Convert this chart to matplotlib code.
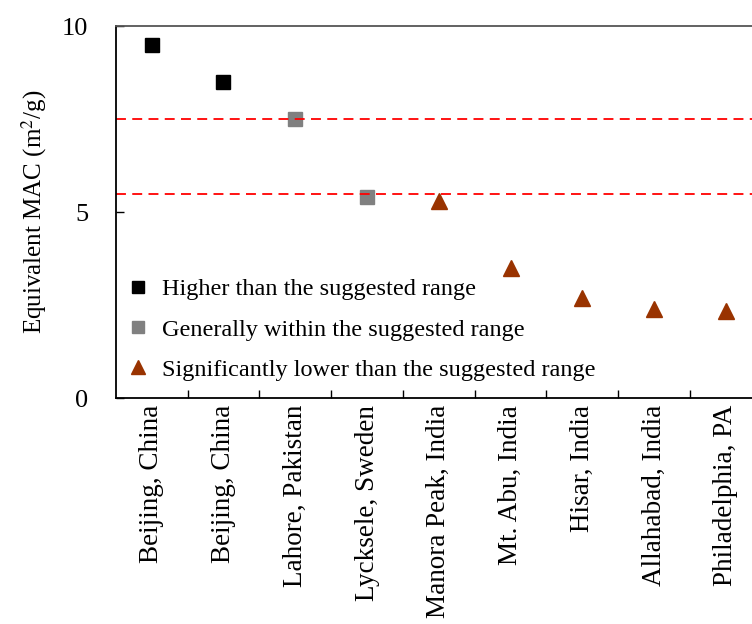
import matplotlib.pyplot as plt
import numpy as np

plt.rcParams['font.family'] = ['Liberation Serif', 'DejaVu Serif']
plt.rcParams['mathtext.fontset'] = 'stix'

sites = ["Beijing, China", "Beijing, China", "Lahore, Pakistan", "Lycksele, Sweden",
         "Manora Peak, India", "Mt. Abu, India", "Hisar, India", "Allahabad, India",
         "Philadelphia, PA"]
mac = [9.5, 8.5, 7.5, 5.4, 5.3, 3.5, 2.7, 2.4, 2.35]
group = ["high", "high", "within", "within", "low", "low", "low", "low", "low"]

range_low = 5.5
range_high = 7.5

styles = {
    "high": dict(marker="s", color="black", ms=10, label="Higher than the suggested range"),
    "within": dict(marker="s", color="#808080", ms=10, label="Generally within the suggested range"),
    "low": dict(marker="^", color="#993300", ms=11, label="Significantly lower than the suggested range"),
}

fig = plt.figure(figsize=(7.52, 6.24), dpi=100)
ax = fig.add_axes([0.154, 0.362, 0.859, 0.596])

x = np.arange(len(sites))
for key in ["high", "within", "low"]:
    idx = [i for i, g in enumerate(group) if g == key]
    ax.plot(x[idx], [mac[i] for i in idx], linestyle="none", **styles[key])

# suggested MAC range
for yv in (range_low, range_high):
    ax.axhline(yv, color="red", lw=1.3, linestyle=(0, (5.5, 3.5)))

ax.set_xlim(-0.5, len(sites) - 0.5)
ax.set_ylim(0, 10)
ax.set_yticks([0, 5, 10])
ax.set_xticks(x)
ax.set_xticklabels(sites, rotation=90, fontsize=19.5)
ax.set_xticks(x[:-1] + 0.5, minor=True)
ax.tick_params(axis="x", which="major", length=0, pad=5)
ax.tick_params(axis="x", which="minor", direction="in", length=6, width=1)
ax.tick_params(axis="y", direction="in", length=6, width=1, labelsize=19, pad=20)
ax.set_ylabel("Equivalent MAC (m$^2$/g)", fontsize=18, labelpad=9)

for s in ax.spines.values():
    s.set_linewidth(1.3)
ax.spines["top"].set_color("#555555")

leg = ax.legend(loc="lower left", bbox_to_anchor=(0.0, 0.02), frameon=False,
                fontsize=17.5, labelspacing=0.75, handlelength=1.0, handletextpad=0.5,
                borderaxespad=0, markerscale=0.9)

fig.savefig("out.png", dpi=100)
